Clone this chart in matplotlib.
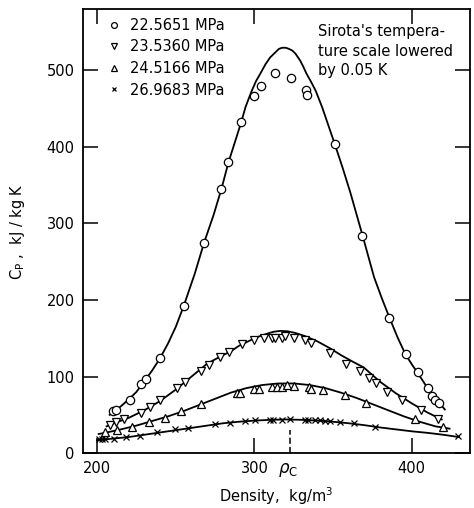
import numpy as np
import matplotlib
matplotlib.use('Agg')
import matplotlib.pyplot as plt

labels = ['22.5651 MPa', '23.5360 MPa', '24.5166 MPa', '26.9683 MPa']
markers = ['o', 'v', '^', 'x']

# measured points (density kg/m3, Cp kJ/kg K)
rho1 = [210, 212, 220.6, 228, 231, 240, 255, 268, 279, 283.5, 291.7, 299.4, 304.4, 313, 323.5, 333, 333.5,
        351, 368.6, 385.7, 396, 404, 410, 413, 415, 417]
cp1 = [55, 56, 69, 90, 97, 124, 192, 275, 345, 380, 433, 466, 479, 496, 490, 475, 468,
       404, 283, 176, 129, 106, 85, 74, 69, 65]

rho2 = [208, 212, 217, 227.6, 233.3, 240, 250.5, 256, 266.3, 271, 278, 284, 292.4, 300, 306, 311, 313.3,
        317.6, 319.7, 325.4, 332, 336, 348, 358.4, 367, 372.6, 377.5, 384.2, 393.8, 405.8, 416.4]
cp2 = [37, 41, 44, 52, 60, 69, 85, 93, 107, 115, 126, 132, 142, 147.5, 150, 151, 151,
       151, 152.7, 150, 147.5, 144, 131, 117, 107.5, 98.7, 91, 80, 69, 56, 45]

rho3 = [205, 212.6, 222, 232.7, 243, 253, 265.9, 288.8, 291, 299.6, 302.7, 311.2, 314.4, 317.6, 320.8, 325,
        334.5, 336, 343.6, 357.8, 371, 401.8, 419.8]
cp3 = [28, 30, 34, 41, 46, 55, 64, 79, 79, 84.4, 84.4, 86.5, 86.5, 86.5, 88.7, 87.5,
       86.5, 84.4, 83, 75.7, 65.7, 45, 34]

rho4 = [201, 203, 205, 211, 218.5, 227, 238, 249.6, 258, 275, 284.6, 294, 300.4, 310, 312, 317.6, 322.9,
        332, 333.8, 338.7, 341.9, 345, 348.3, 354.6, 363, 376.4, 429.3]
cp4 = [18, 18, 18, 19, 20.5, 23, 27, 31, 33, 38, 39.6, 41.8, 43, 43.3, 43.3, 43.8, 44,
       43.5, 43.5, 43, 43, 42.5, 42, 41, 39.6, 34.4, 22]

# smooth curves
crho1 = [208, 212, 215, 220, 225, 230, 235, 240, 245, 250, 255, 262, 268, 274, 279, 283.5, 288, 291.7, 294.3,
         298, 301, 303.8, 307, 310, 313, 315.5, 317.6, 320, 322, 324, 326, 329, 331, 333, 336, 339, 343,
         347, 351, 356, 361, 368.6, 376, 381, 386, 391, 396, 400, 404, 410, 415, 421]
ccp1 = [50, 56, 61, 70, 80, 94, 108, 124, 143, 165, 192, 234, 275, 311, 345, 380, 409, 433, 452,
        472, 486, 496, 508, 517, 523, 528, 529.6, 529.5, 528, 526, 522, 513, 505, 496, 485, 473, 452,
        428, 404, 373, 340, 285, 230, 202, 176, 151, 129, 116, 104, 85, 72, 57]

crho2 = [206, 212, 220, 230, 240, 250, 260, 270, 280, 285, 290, 297.5, 303, 308, 312, 316.5, 321, 326, 332,
         340, 348, 355, 362, 369.4, 380, 390, 400, 410, 419]
ccp2 = [35, 40, 46, 56, 68, 83, 100, 117, 128, 133, 140, 147.5, 152.5, 156, 158.5, 159.7, 159.2, 157, 153,
        146, 137, 128, 120, 112, 93, 78, 65, 53, 44]

crho3 = [201, 205, 215, 225, 235, 245, 255, 265, 275, 285, 295, 305, 315, 325, 335, 345, 355, 365, 375, 385,
         395, 405, 415, 424]
ccp3 = [25, 26.5, 31, 36, 42, 48, 55, 63, 71, 79, 85, 89, 91, 91, 89, 85, 79, 72, 64, 56,
        48, 41, 35, 32]

crho4 = [200, 210, 220, 230, 240, 250, 260, 270, 280, 290, 300, 310, 320, 330, 340, 350, 360, 370, 380, 390,
         400, 410, 420, 430]
ccp4 = [17, 19, 21, 24, 27, 30, 33, 36, 39, 41, 42.5, 43.5, 44, 43.5, 42.5, 41, 39, 36.5, 33.5, 31,
        28.5, 26.5, 24, 21]

rho_c = 322.4

plt.rcParams['font.family'] = 'DejaVu Sans'
fig = plt.figure(figsize=(4.74, 5.08), dpi=100)
ax = fig.add_axes([0.175, 0.108, 0.8166, 0.874])

pts = [(rho1, cp1), (rho2, cp2), (rho3, cp3), (rho4, cp4)]
curves = [(crho1, ccp1), (crho2, ccp2), (crho3, ccp3), (crho4, ccp4)]
for (cx, cy) in curves:
    ax.plot(cx, cy, color='black', lw=1.3, zorder=2, solid_joinstyle='round')
handles = []
for (px, py), m, lab in zip(pts, markers, labels):
    if m == 'x':
        h, = ax.plot(px, py, ls='none', marker='x', ms=4.5, mew=0.9, color='black', label=lab, zorder=3)
    else:
        h, = ax.plot(px, py, ls='none', marker=m, ms=6, mew=0.9, mfc='white', mec='black', label=lab, zorder=3)
    handles.append(h)

ax.plot([rho_c, rho_c], [0, 30], color='black', lw=1.1, ls=(0, (4, 2)))

ax.set_xlim(191, 437)
ax.set_ylim(0, 580)
ax.set_xticks([200, 300, 400])
ax.set_yticks([0, 100, 200, 300, 400, 500])
ax.tick_params(direction='in', length=11, width=1.1, top=True, right=True, labelsize=10.5, pad=6)
for s in ax.spines.values():
    s.set_linewidth(1.3)

ax.text(315, -10, r'$\rho_\mathregular{C}$', fontsize=12, ha='left', va='top')
ax.set_xlabel(r'Density,  kg/m$^\mathregular{3}$', fontsize=10.5, labelpad=6)
ax.set_ylabel(r'C$_\mathregular{P}$ ,  kJ / kg K', fontsize=10.5, labelpad=14)

ax.text(340.6, 560, "Sirota's tempera-\nture scale lowered\nby 0.05 K", fontsize=10.5,
        ha='left', va='top', linespacing=1.35)

ax.legend(handles=handles, loc='upper left', bbox_to_anchor=(0.03, 1.01), frameon=False,
          fontsize=10.5, handlelength=0.8, handletextpad=0.7, labelspacing=0.45, markerscale=0.7)

fig.savefig('out.png', dpi=100)
